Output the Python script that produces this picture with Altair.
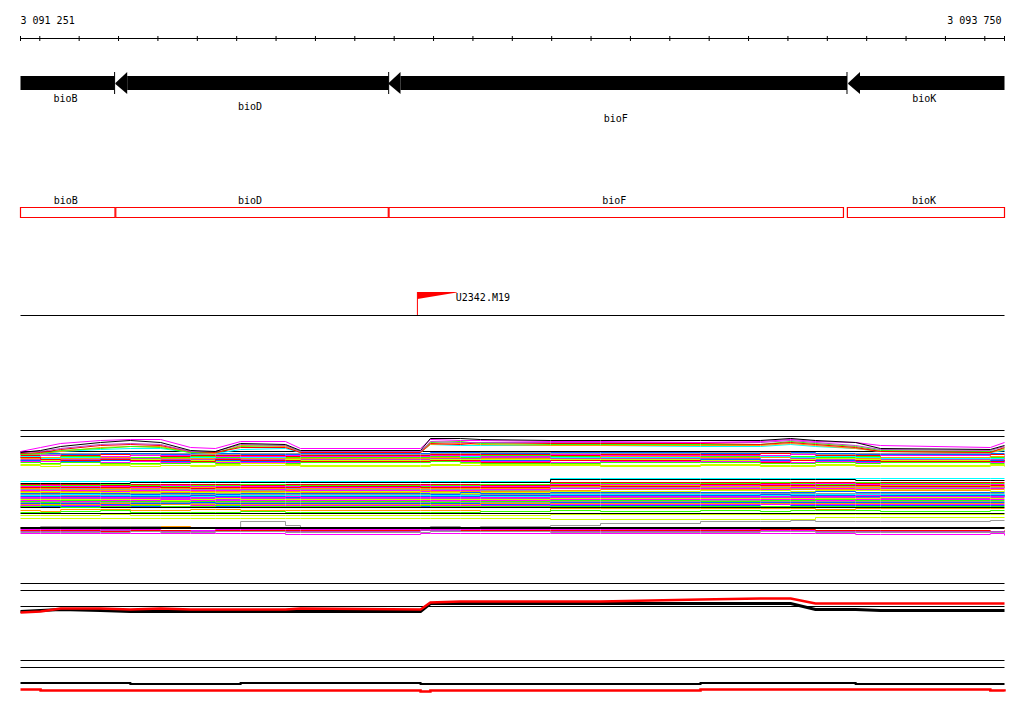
import altair as alt
import pandas as pd

# ---------------- data ----------------
VIEW = [3091251, 3093750]
TICKS = [3091251, 3091300, 3091400, 3091500, 3091600, 3091700, 3091800, 3091900,
         3092000, 3092100, 3092200, 3092300, 3092400, 3092500, 3092600, 3092700,
         3092800, 3092900, 3093000, 3093100, 3093200, 3093300, 3093400, 3093500,
         3093600, 3093700, 3093750]

GENES = ["bioB", "bioD", "bioF", "bioK"]
GENE_LEFT = [3090450, 3091492, 3092186, 3093353]
GENE_RIGHT = [3091490, 3092186, 3093350, 3094520]
LABEL_TIER = [0, 1, 2, 0]

BOX_LEFT = [3090450, 3091493, 3092187, 3093351]
BOX_RIGHT = [3091491, 3092185, 3093341, 3094520]

MARKERS = ["U2342.M19"]
MARKER_POS = [3092259]

# sample positions (bp) at which the profiles were read
GRID = [3091251, 3091302, 3091353, 3091454, 3091530, 3091607, 3091683, 3091746,
        3091810, 3091924, 3091962, 3092267, 3092292, 3092368, 3092419, 3092597,
        3092724, 3092978, 3093130, 3093207, 3093270, 3093372, 3093435, 3093714,
        3093750]

PALETTE = {"K": "#000000", "M": "#ff00ff", "R": "#ff0000", "G": "#33ff00",
           "B": "#0066ff", "C": "#00ffff", "Y": "#ccff00", "O": "#ff9900",
           "A": "#999999", "P": "#bb44cc"}

# multi-sample track: flat reference lines (depth below track top)
MULTI_FLAT = [0, 6, 21, 77, 83]
MULTI_THICK = [97.5]

# bumpy profiles (linear)
MULTI_BUMP = [
    ("C", [23,23,21,19,18,18,22,23,19,18,22,22,14,15,15,15,15,16,16,14,16,18,21,22,20]),
    ("O", [24,23,21,17,16,16,22,23,15,16,22,22,14,13,14,15,15,15,15,13,15,18,21,22,19]),
    ("G", [24,23,20,18,16,17,22,22,16,15,21,21,12,11,13,14,14,14,14,11,13,16,20,21,18]),
    ("R", [23,22,19,15,14,15,21,22,17,17,22,22,13,14,12,13,13,13,14,12,14,17,21,22,17]),
    ("P", [22,21,18,14,13,14,21,21,14,15,21,21,11,12,12,12,12,12,12,10,12,15,19,20,16]),
    ("M", [21,17,13,10,9,9,17,18,11,11,18,18,9,10,10,11,11,12,11,9,11,12,15,17,12]),
    ("K", [22,20,16,12,10,12,20,21,13,14,20,20,8,8,9,10,10,10,10,8,10,12,18,19,15]),
]

# step profiles, upper band
MULTI_UPPER = [
    ("B", [23,23,24,23,23,24,23,23,24,24,23,23,22,22,23,22,22,23,23,22,23,24,24,23,23]),
    ("A", [24,24,23,24,24,23,24,24,23,23,24,24,23,23,22,23,23,22,22,23,24,23,23,24,24]),
    ("R", [25,25,25,24,25,26,25,25,25,26,25,25,24,24,24,25,24,24,23,24,25,25,25,24,24]),
    ("M", [26,25,26,26,25,25,26,26,26,25,26,26,25,25,26,24,25,25,25,24,26,26,25,26,25]),
    ("G", [27,27,26,27,27,27,26,27,28,27,27,27,26,27,25,26,26,26,27,26,27,26,27,27,27]),
    ("C", [26,28,27,28,28,28,27,28,27,28,28,28,27,26,27,27,27,28,26,27,26,27,28,28,26]),
    ("O", [28,27,28,27,29,28,28,29,28,28,28,28,27,28,28,28,26,27,27,28,28,28,27,26,27]),
    ("P", [29,29,29,28,28,29,29,28,29,29,29,29,28,28,27,28,28,28,29,28,29,29,29,29,28]),
    ("Y", [30,30,30,30,29,30,30,31,30,29,30,30,29,29,29,29,29,30,30,29,28,29,30,30,29]),
    ("B", [30,31,31,30,31,31,31,30,31,31,31,31,30,30,30,30,31,29,30,30,30,31,31,30,31]),
    ("R", [27,29,30,29,30,30,31,29,30,30,31,31,30,30,32,30,30,31,32,30,31,30,31,31,30]),
    ("M", [31,31,32,32,31,32,32,32,32,32,32,32,31,31,31,32,31,31,31,32,31,32,32,32,31]),
    ("G", [32,33,32,33,33,33,32,33,33,33,32,32,31,32,33,33,32,32,33,33,32,33,32,33,33]),
    ("Y", [34,34,35,34,34,35,35,34,33,34,35,35,34,33,34,35,35,34,35,35,34,35,35,34,35]),
    ("Y", [35,36,35,35,36,35,36,35,35,35,36,36,35,35,35,34,36,35,36,36,35,36,36,35,36]),
]

# step profiles, middle band
MULTI_MIDDLE = [
    ("C", [51,51,51,51,51,51,51,51,51,51,51,51,51,51,51,48,48,48,48,48,48,48,48,48,48]),
    ("K", [53,53,53,53,52,52,52,52,52,52,52,52,52,52,52,49,49,49,49,49,49,50,50,50,50]),
    ("R", [54,54,54,55,54,54,54,54,55,54,54,54,54,54,55,52,52,52,53,52,52,53,52,52,52]),
    ("G", [55,56,55,54,55,56,55,55,54,55,55,56,55,55,54,53,53,53,52,53,54,52,53,53,53]),
    ("M", [56,55,56,56,57,55,56,56,56,56,57,55,56,56,56,54,54,55,54,54,53,54,54,54,54]),
    ("R", [57,57,57,57,56,57,58,57,57,57,56,57,57,57,57,55,56,54,55,55,55,55,56,55,55]),
    ("O", [58,58,59,58,58,58,57,58,58,59,58,58,58,58,58,56,55,56,56,56,57,56,55,56,57]),
    ("A", [59,59,58,59,59,59,59,59,60,58,59,59,59,59,60,57,57,57,57,58,56,57,57,57,56]),
    ("M", [60,60,60,61,60,60,60,60,59,60,60,61,60,60,59,58,58,58,59,57,58,59,58,58,58]),
    ("O", [61,62,61,60,61,62,61,61,61,61,62,60,61,61,61,60,59,59,58,59,59,58,60,59,59]),
    ("Y", [62,61,62,62,62,61,62,62,62,62,61,62,62,63,62,61,61,60,60,61,60,60,59,61,60]),
    ("B", [63,63,63,63,64,63,63,64,63,63,63,63,64,62,63,62,62,62,62,62,61,62,62,62,62]),
    ("A", [64,64,65,64,63,64,64,63,64,64,64,64,63,64,64,63,63,63,63,63,63,63,63,63,63]),
    ("C", [65,65,64,65,65,65,66,65,65,65,65,65,65,65,66,64,64,64,65,64,64,64,64,64,65]),
    ("B", [66,66,66,66,66,66,65,66,66,67,66,66,66,66,65,65,65,65,64,65,65,66,65,65,66]),
    ("M", [67,67,67,67,68,67,67,67,67,66,67,67,67,67,67,66,66,66,66,67,66,65,66,66,66]),
    ("P", [68,68,68,68,67,68,68,69,68,68,68,68,68,68,68,67,67,67,67,66,67,67,68,67,67]),
    ("Y", [69,69,69,69,69,70,69,68,69,69,69,69,69,69,69,68,68,68,68,68,68,68,67,68,68]),
    ("M", [70,70,71,70,70,69,70,70,70,70,70,70,70,70,70,69,69,69,69,69,70,69,69,69,69]),
    ("G", [71,72,70,71,71,71,71,71,71,71,71,71,72,71,71,70,70,71,70,70,69,70,70,70,70]),
    ("A", [72,71,72,72,72,72,73,72,72,72,72,72,71,72,72,71,71,70,71,71,71,71,71,71,71]),
    ("B", [73,73,73,74,73,73,72,73,73,73,73,73,73,73,74,72,72,72,72,72,72,72,72,72,72]),
    ("O", [74,74,74,73,74,74,74,74,74,74,74,74,74,74,73,73,73,73,73,73,73,73,73,73,73]),
    ("M", [75,75,75,75,75,76,75,75,75,75,75,75,75,75,75,74,74,74,74,74,74,74,74,74,74]),
    ("B", [76,76,76,76,76,76,76,76,76,76,76,76,76,76,76,75,75,75,76,75,75,75,75,75,75]),
    ("G", [76,75,77,76,75,76,76,75,76,76,76,75,76,76,76,76,76,76,76,76,76,76,76,76,76]),
    ("O", [80,81,79,79,80,80,79,79,80,80,80,80,80,80,81,78,78,78,78,78,79,78,78,78,78]),
    ("G", [82,82,81,80,82,82,82,82,81,82,82,82,82,82,81,80,81,80,81,80,80,80,81,80,80]),
    ("Y", [85,85,85,84,85,85,85,85,85,85,85,85,85,85,85,84,84,84,84,84,84,84,84,84,84]),
    ("Y", [88,88,88,88,88,88,88,88,88,88,88,88,88,88,88,89,89,89,89,89,87,87,87,87,87]),
]

# step profiles, lower band
MULTI_LOWER = [
    ("O", [97,97,96,96,96,96,97,97,97,97,97,97,97,97,97,97,97,97,97,97,97,97,97,97,97]),
    ("A", [98,96,96,96,96,97,97,97,91,95,97,97,96,97,96,95,93,91,91,90,91,91,91,90,90]),
    ("M", [99,99,99,99,99,100,100,99,99,99,99,99,99,99,99,99,99,99,100,100,100,100,101,101,101]),
    ("R", [100,100,100,101,100,100,101,100,100,100,100,100,100,100,100,100,100,100,99,99,100,100,100,101,100]),
    ("P", [101,101,101,100,101,101,101,101,101,101,101,100,100,101,101,101,101,101,101,101,101,101,101,101,102]),
    ("A", [102,102,102,102,101,102,102,101,101,102,102,102,101,101,101,102,102,102,101,101,102,102,102,102,102]),
    ("M", [103,103,103,103,103,103,103,103,103,104,104,103,103,103,103,103,103,103,103,103,103,104,104,103,105]),
]

# pooled track A
POOL_A_FLAT = [0, 7, 23]
POOL_A_BLACK = [28,27,26,27,28,28,28,28,28,28,28,28,20,20,20,20,20,20,20,20,26,26,27,27,27]
POOL_A_RED = [29,28,25,25,26,25,26,26,26,26,25,26,19,18,18,18,18,16,15,15,20,20,20,20,20]

# pooled track B
POOL_B_FLAT = [0, 7]
POOL_B_BLACK = [22.5,22.5,22.5,22.5,23.5,23.5,23.5,23.5,22.5,22.5,22.5,23.5,23.5,23.5,23.5,
                23.5,23.5,22.5,22.5,22.5,22.5,23.5,23.5,23.5,23.5]
POOL_B_RED = [29,30,30,30,30,30,30,30,30,30,30,31,30,30,30,30,30,29,29,29,29,29,29,30,31]

# ---------------- layout ----------------
PX_PER_BP = 984 / 2499
D0 = VIEW[0] - 12.5 / PX_PER_BP
D1 = D0 + 1008 / PX_PER_BP
HEAD_BP = 30
FLAG_BP = 100
FONT = "DejaVu Sans Mono"

MULTI_TOP = 430.5
POOL_A_TOP = 583.5
POOL_B_TOP = 660.5

xs = alt.Scale(domain=[D0, D1], nice=False, zero=False)
ys = alt.Scale(domain=[8, 706], reverse=True, nice=False, zero=False)


def X(f="pos"):
    return alt.X(f"{f}:Q", scale=xs, axis=None)


def Y(f="v"):
    return alt.Y(f"{f}:Q", scale=ys, axis=None)


def clip(p):
    return min(max(p, VIEW[0]), VIEW[1])


layers = []

# coordinate axis
axis_df = pd.DataFrame({"pos": [VIEW[0]], "pos2": [VIEW[1]], "v": [38.5]})
layers.append(alt.Chart(axis_df).mark_rule(color="black", strokeWidth=1).encode(
    x=X(), x2="pos2:Q", y=Y()))
tick_df = pd.DataFrame({"pos": TICKS, "v": [36] * len(TICKS), "v2": [41] * len(TICKS)})
layers.append(alt.Chart(tick_df).mark_rule(color="black", strokeWidth=1).encode(
    x=X(), y=Y(), y2="v2:Q"))
lab = lambda n: f"{n:,}".replace(",", " ")
layers.append(alt.Chart(pd.DataFrame({"pos": [VIEW[0]], "v": [24], "t": [lab(VIEW[0])]}))
              .mark_text(align="left", baseline="alphabetic", font=FONT, fontSize=10, color="black")
              .encode(x=X(), y=Y(), text="t:N"))
layers.append(alt.Chart(pd.DataFrame({"pos": [VIEW[1]], "v": [24], "t": [lab(VIEW[1])]}))
              .mark_text(align="right", baseline="alphabetic", font=FONT, fontSize=10, color="black", dx=-3)
              .encode(x=X(), y=Y(), text="t:N"))

# gene arrows
bars, heads, ends, glabels = [], [], [], []
tier_v = [101.5, 110, 122]
for g, l, r, t in zip(GENES, GENE_LEFT, GENE_RIGHT, LABEL_TIER):
    has_head = l >= VIEW[0]
    bstart = clip(l + HEAD_BP) if has_head else VIEW[0]
    bars.append({"pos": bstart, "pos2": clip(r), "v": 76, "v2": 90})
    if has_head:
        heads += [{"gene": g, "pos": l, "v": 83, "v2": 84},
                  {"gene": g, "pos": l + HEAD_BP, "v": 72, "v2": 94}]
    if r <= VIEW[1]:
        ends.append({"pos": r, "v": 72, "v2": 94})
    glabels.append({"pos": (clip(l) + clip(r)) / 2, "v": tier_v[t], "t": g})
layers.append(alt.Chart(pd.DataFrame(bars)).mark_rect(color="black").encode(
    x=X(), x2="pos2:Q", y=Y(), y2="v2:Q"))
layers.append(alt.Chart(pd.DataFrame(heads)).mark_area(color="black").encode(
    x=X(), y=Y(), y2="v2:Q", detail="gene:N"))
layers.append(alt.Chart(pd.DataFrame(ends)).mark_rule(color="black", strokeWidth=1).encode(
    x=X(), y=Y(), y2="v2:Q"))
layers.append(alt.Chart(pd.DataFrame(glabels)).mark_text(
    align="center", baseline="alphabetic", font=FONT, fontSize=10, color="black", dx=-2).encode(
    x=X(), y=Y(), text="t:N"))

# gene boxes
boxes, blabels = [], []
for g, l, r in zip(GENES, BOX_LEFT, BOX_RIGHT):
    boxes.append({"pos": clip(l), "pos2": clip(r), "v": 207.5, "v2": 217.5})
    blabels.append({"pos": (clip(l) + clip(r)) / 2, "v": 204, "t": g})
layers.append(alt.Chart(pd.DataFrame(boxes)).mark_rect(
    fill="white", stroke="#ff0000", strokeWidth=1.2).encode(x=X(), x2="pos2:Q", y=Y(), y2="v2:Q"))
layers.append(alt.Chart(pd.DataFrame(blabels)).mark_text(
    align="center", baseline="alphabetic", font=FONT, fontSize=10, color="black", dx=-2).encode(
    x=X(), y=Y(), text="t:N"))

# marker track
layers.append(alt.Chart(pd.DataFrame({"pos": [VIEW[0]], "pos2": [VIEW[1]], "v": [315.5]}))
              .mark_rule(color="black", strokeWidth=1).encode(x=X(), x2="pos2:Q", y=Y()))
flags, poles, mlabels = [], [], []
for m, p in zip(MARKERS, MARKER_POS):
    flags += [{"m": m, "pos": p, "v": 292, "v2": 299}, {"m": m, "pos": p + FLAG_BP, "v": 292, "v2": 292.5}]
    poles.append({"pos": p, "v": 292, "v2": 315})
    mlabels.append({"pos": p + FLAG_BP, "v": 301, "t": m})
layers.append(alt.Chart(pd.DataFrame(flags)).mark_area(color="#ff0000").encode(
    x=X(), y=Y(), y2="v2:Q", detail="m:N"))
layers.append(alt.Chart(pd.DataFrame(poles)).mark_rule(color="#ff0000", strokeWidth=1).encode(
    x=X(), y=Y(), y2="v2:Q"))
layers.append(alt.Chart(pd.DataFrame(mlabels)).mark_text(
    align="left", baseline="alphabetic", font=FONT, fontSize=10, color="black", dx=-1).encode(
    x=X(), y=Y(), text="t:N"))


def profiles(lines, top, name):
    rows = []
    for i, (c, vals) in enumerate(lines):
        for p, val in zip(GRID, vals):
            rows.append({"id": f"{name}{i:03d}", "pos": p, "v": top + val, "c": PALETTE[c]})
    return pd.DataFrame(rows)


def flat(offsets, top):
    return pd.DataFrame({"pos": [VIEW[0]] * len(offsets), "pos2": [VIEW[1]] * len(offsets),
                         "v": [top + o for o in offsets]})


# multi-sample track
layers.append(alt.Chart(flat(MULTI_FLAT, MULTI_TOP)).mark_rule(color="black", strokeWidth=1).encode(
    x=X(), x2="pos2:Q", y=Y()))
for lines, name, interp in [(MULTI_UPPER, "u", "step-after"), (MULTI_MIDDLE, "m", "step-after"),
                            (MULTI_LOWER, "l", "step-after"), (MULTI_BUMP, "b", "linear")]:
    layers.append(alt.Chart(profiles(lines, MULTI_TOP, name)).mark_line(
        strokeWidth=1, interpolate=interp).encode(
        x=X(), y=Y(), detail="id:N", color=alt.Color("c:N", scale=None)))
layers.append(alt.Chart(flat(MULTI_THICK, MULTI_TOP)).mark_rule(color="black", strokeWidth=2).encode(
    x=X(), x2="pos2:Q", y=Y()))

# pooled track A
layers.append(alt.Chart(flat(POOL_A_FLAT, POOL_A_TOP)).mark_rule(color="black", strokeWidth=1).encode(
    x=X(), x2="pos2:Q", y=Y()))
pa = pd.DataFrame({"pos": GRID, "k": [POOL_A_TOP + v for v in POOL_A_BLACK],
                   "r": [POOL_A_TOP + v for v in POOL_A_RED]})
layers.append(alt.Chart(pa).mark_line(color="black", strokeWidth=3).encode(x=X(), y=Y("k")))
layers.append(alt.Chart(pa).mark_line(color="#ff0000", strokeWidth=2.5).encode(x=X(), y=Y("r")))

# pooled track B
layers.append(alt.Chart(flat(POOL_B_FLAT, POOL_B_TOP)).mark_rule(color="black", strokeWidth=1).encode(
    x=X(), x2="pos2:Q", y=Y()))
pb = pd.DataFrame({"pos": GRID, "k": [POOL_B_TOP + v for v in POOL_B_BLACK],
                   "r": [POOL_B_TOP + v for v in POOL_B_RED]})
layers.append(alt.Chart(pb).mark_line(color="black", strokeWidth=2, interpolate="step-after").encode(
    x=X(), y=Y("k")))
layers.append(alt.Chart(pb).mark_line(color="#ff0000", strokeWidth=2.5, interpolate="step-after").encode(
    x=X(), y=Y("r")))

chart = alt.layer(*layers).properties(width=1008, height=698, padding=0, background="white") \
    .configure_view(stroke=None)

chart.save("out.html", embed_options={"renderer": "svg", "actions": False})
